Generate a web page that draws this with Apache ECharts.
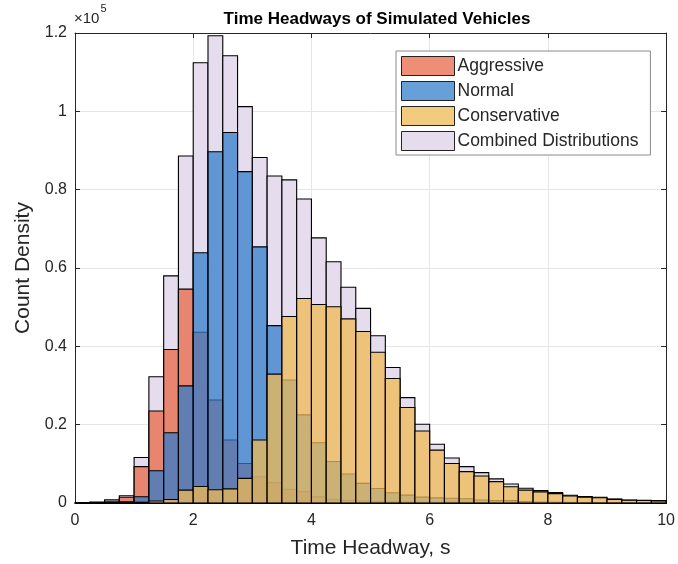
<!DOCTYPE html>
<html>
<head>
<meta charset="utf-8">
<script src="https://cdn.jsdelivr.net/npm/echarts@6/dist/echarts.min.js"></script>
<style>html,body{margin:0;padding:0;background:#fff;}#c{width:678px;height:564px;}</style>
</head>
<body>
<div id="c"></div>
<script>
const binEdges = [0,0.25,0.5,0.75,1,1.25,1.5,1.75,2,2.25,2.5,2.75,3,3.25,3.5,3.75,4,4.25,4.5,4.75,5,5.25,5.5,5.75,6,6.25,6.5,6.75,7,7.25,7.5,7.75,8,8.25,8.5,8.75,9,9.25,9.5,9.75,10];
const aggressive = [0,50,300,1450,9300,23500,39200,54600,43600,26300,16100,10100,6700,5200,3500,2900,1600,950,700,500,400,300,250,200,150,150,150,100,100,80,60,50,40,30,30,20,20,10,10,10];
const normal = [0,0,50,300,1600,8250,17950,29900,63900,89700,94600,84600,65400,45300,31400,22500,15400,10600,7400,5000,3700,2600,2000,1500,1300,1200,1100,750,600,600,380,250,200,150,120,100,70,60,50,40];
const conservative = [0,0,0,50,200,500,900,3300,4200,3400,3600,6300,16100,32900,47600,52200,50700,50100,47000,43800,38500,31800,24400,18400,13500,10100,8000,6900,5450,4150,3300,2850,2400,1780,1480,1330,930,690,620,540];
const combined = [100,250,800,1860,11600,32250,58000,88600,112400,119300,114200,101200,88200,83500,82500,77600,67700,61600,55100,49700,42700,34600,26900,20100,15000,11500,9300,7750,6150,4850,3750,3150,2650,1960,1620,1450,1020,770,690,600];
const xTicks = [0,2,4,6,8,10];
const yTicks = [0,20000,40000,60000,80000,100000,120000];

const FONT = 'Liberation Sans, Arial, Helvetica, sans-serif';
const AX = '#262626';
const colors = {
  'Aggressive': 'rgba(233,99,65,0.72)',
  'Normal': 'rgba(45,122,203,0.72)',
  'Conservative': 'rgba(239,185,84,0.75)',
  'Combined Distributions': 'rgba(228,219,236,0.95)'
};
function toData(vals){ return vals.map((v,i)=>[binEdges[i], binEdges[i+1], v]); }
function histSeries(name, vals, z){
  const fill = colors[name];
  return {
    type: 'custom', name: name, z: z,
    itemStyle: {color: fill, borderColor: '#000', borderWidth: 1},
    encode: {x: [0,1], y: 2},
    data: toData(vals),
    renderItem: function(params, api){
      const p0 = api.coord([api.value(0), api.value(2)]);
      const p1 = api.coord([api.value(1), 0]);
      return {type:'rect', shape:{x:p0[0], y:p0[1], width:p1[0]-p0[0], height:p1[1]-p0[1]},
              style:{fill: fill, stroke:'#000', lineWidth:1.1}};
    }
  };
}
const chart = echarts.init(document.getElementById('c'), null, {renderer:'canvas'});
const axisCommon = {
  axisLine:{show:true, onZero:false, lineStyle:{color:AX, width:1}},
  axisTick:{show:true, inside:true, length:5, lineStyle:{color:AX}},
};
chart.setOption({
  animation:false,
  backgroundColor:'#fff',
  title:{text:'Time Headways of Simulated Vehicles', left:372, top:6, textAlign:'center',
    textStyle:{fontFamily:FONT, fontWeight:'bold', fontSize:17, color:'#000'}},
  grid:{left:75, right:9, top:33, bottom:61, show:false},
  legend:{
    left:396, top:51, orient:'vertical', itemWidth:53, itemHeight:19, itemGap:5,
    padding:[5,12,4,5], backgroundColor:'#fff', borderColor:'#8a8a8a', borderWidth:1,
    textStyle:{fontFamily:FONT, fontSize:17.5, color:'#262626', padding:[0,0,0,-2]},
    data:['Aggressive','Normal','Conservative','Combined Distributions'].map(n=>({
      name:n, icon:'rect', itemStyle:{color:colors[n], borderColor:'#222', borderWidth:1}}))
  },
  xAxis:[{
    type:'value', min:0, max:10, interval:2, position:'bottom',
    ...axisCommon,
    name:'Time Headway, s', nameLocation:'middle', nameGap:35,
    nameTextStyle:{fontFamily:FONT, fontSize:21, color:AX},
    axisLabel:{fontFamily:FONT, fontSize:16, color:AX, margin:10, formatter:v=>xTicks.includes(v)?String(v):''},
    splitLine:{show:true, lineStyle:{color:'#e6e6e6', width:1}}
  },{
    type:'value', min:0, max:10, interval:2, position:'top',
    ...axisCommon, axisLabel:{show:false}, splitLine:{show:false}
  }],
  yAxis:[{
    type:'value', min:0, max:120000, interval:20000, position:'left',
    ...axisCommon,
    name:'Count Density', nameLocation:'middle', nameGap:41, nameRotate:90,
    nameTextStyle:{fontFamily:FONT, fontSize:21, color:AX},
    axisLabel:{fontFamily:FONT, fontSize:16, color:AX, margin:8,
      formatter:v=>yTicks.includes(v)?String(+(v/1e5).toFixed(1)):''},
    splitLine:{show:true, lineStyle:{color:'#e6e6e6', width:1}}
  },{
    type:'value', min:0, max:120000, interval:20000, position:'right',
    ...axisCommon, axisLabel:{show:false}, splitLine:{show:false}
  }],
  graphic:[{
    type:'text', left:74, top:3,
    style:{text:'{a|×10}{b|5}', rich:{
      a:{fontFamily:FONT, fontSize:15, fill:AX, padding:[8,0,0,0]},
      b:{fontFamily:FONT, fontSize:11, fill:AX, verticalAlign:'top', padding:[0,0,0,1]}}}
  }],
  series:[
    histSeries('Combined Distributions', combined, 1),
    histSeries('Aggressive', aggressive, 2),
    histSeries('Normal', normal, 3),
    histSeries('Conservative', conservative, 4)
  ]
});
</script>
</body>
</html>
